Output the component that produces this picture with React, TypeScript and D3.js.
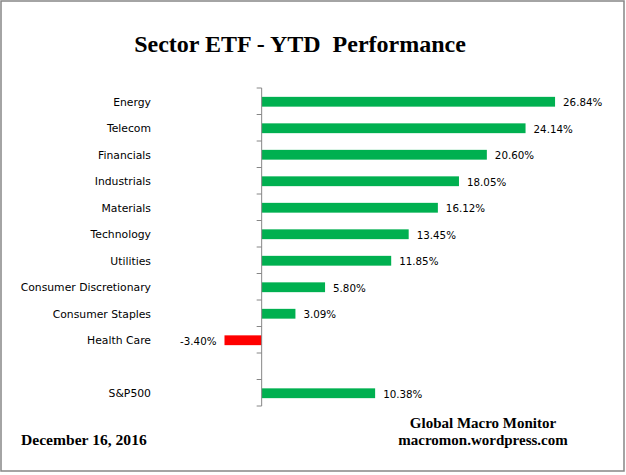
import React, { useEffect, useRef } from 'react';
import * as d3 from 'd3';

const categories = [
  'Energy',
  'Telecom',
  'Financials',
  'Industrials',
  'Materials',
  'Technology',
  'Utilities',
  'Consumer Discretionary',
  'Consumer Staples',
  'Health Care',
  '',
  'S&P500',
];
const values: (number | null)[] = [26.84, 24.14, 20.6, 18.05, 16.12, 13.45, 11.85, 5.8, 3.09, -3.4, null, 10.38];

const title = 'Sector ETF - YTD  Performance';
const dateNote = 'December 16, 2016';
const sourceLines = ['Global Macro Monitor', 'macromon.wordpress.com'];

const App: React.FC = () => {
  const svgRef = useRef<SVGSVGElement | null>(null);

  useEffect(() => {
    const svg = d3.select(svgRef.current);
    const width = 626;
    const height = 475;
    svg.selectAll('*').remove();

    const sans = '"DejaVu Sans", Verdana, sans-serif';
    const serif = '"Liberation Serif", "Times New Roman", serif';

    // frame
    svg
      .append('rect')
      .attr('x', 1)
      .attr('y', 1)
      .attr('width', width - 3)
      .attr('height', height - 5)
      .attr('fill', 'white')
      .attr('stroke', '#868686')
      .attr('stroke-width', 1.5);

    // scales
    const x = d3.scaleLinear().domain([-5, 30]).range([207, 589.6]);
    const y = d3.scaleBand().domain(categories).range([88, 406]).padding(0);
    const step = y.step();
    const barH = step * 0.37;

    // bars
    const rows = categories
      .map((c, i) => ({ c, v: values[i] }))
      .filter(d => d.v !== null) as { c: string; v: number }[];

    svg
      .append('g')
      .selectAll('rect')
      .data(rows)
      .join('rect')
      .attr('x', d => Math.min(x(0), x(d.v)))
      .attr('y', d => (y(d.c) as number) + step / 2 - barH / 2 + 0.5)
      .attr('width', d => Math.abs(x(d.v) - x(0)))
      .attr('height', barH)
      .attr('fill', d => (d.v < 0 ? '#FF0000' : '#00B050'));

    // value labels
    svg
      .append('g')
      .selectAll('text')
      .data(rows)
      .join('text')
      .attr('x', d => (d.v < 0 ? x(d.v) - 8 : x(d.v) + 8))
      .attr('y', d => (y(d.c) as number) + step / 2 + 5)
      .attr('text-anchor', d => (d.v < 0 ? 'end' : 'start'))
      .attr('font-family', sans)
      .attr('font-size', 10.3)
      .attr('fill', '#000')
      .text(d => `${d.v.toFixed(2)}%`);

    // axis
    const axis = svg.append('g').attr('stroke', '#868686').attr('stroke-width', 1);
    axis
      .append('line')
      .attr('x1', x(0))
      .attr('x2', x(0))
      .attr('y1', 88)
      .attr('y2', 406);
    const tickYs = d3.range(categories.length + 1).map(i => 88 + i * step);
    axis
      .selectAll('line.tick')
      .data(tickYs)
      .join('line')
      .attr('class', 'tick')
      .attr('x1', x(0) - 5)
      .attr('x2', x(0))
      .attr('y1', d => d)
      .attr('y2', d => d);

    // category labels
    svg
      .append('g')
      .selectAll('text')
      .data(categories)
      .join('text')
      .attr('x', 151)
      .attr('y', d => (y(d) as number) + step / 2 + 4.5)
      .attr('text-anchor', 'end')
      .attr('font-family', sans)
      .attr('font-size', 10.8)
      .attr('fill', '#000')
      .text(d => d);

    // title
    svg
      .append('text')
      .attr('x', 300)
      .attr('y', 52)
      .attr('text-anchor', 'middle')
      .attr('font-family', serif)
      .attr('font-weight', 'bold')
      .attr('font-size', 24)
      .style('white-space', 'pre')
      .text(title);

    svg
      .append('text')
      .attr('x', 21)
      .attr('y', 445)
      .attr('font-family', serif)
      .attr('font-weight', 'bold')
      .attr('font-size', 15.6)
      .text(dateNote);

    svg
      .append('g')
      .selectAll('text')
      .data(sourceLines)
      .join('text')
      .attr('x', 483)
      .attr('y', (d, i) => 428 + i * 17)
      .attr('text-anchor', 'middle')
      .attr('font-family', serif)
      .attr('font-weight', 'bold')
      .attr('font-size', 15)
      .text(d => d);
  }, []);

  return (
    <svg
      ref={svgRef}
      width={626}
      height={475}
      style={{ position: 'absolute', left: 0, top: 0, background: 'white' }}
    ></svg>
  );
};

export default App;
